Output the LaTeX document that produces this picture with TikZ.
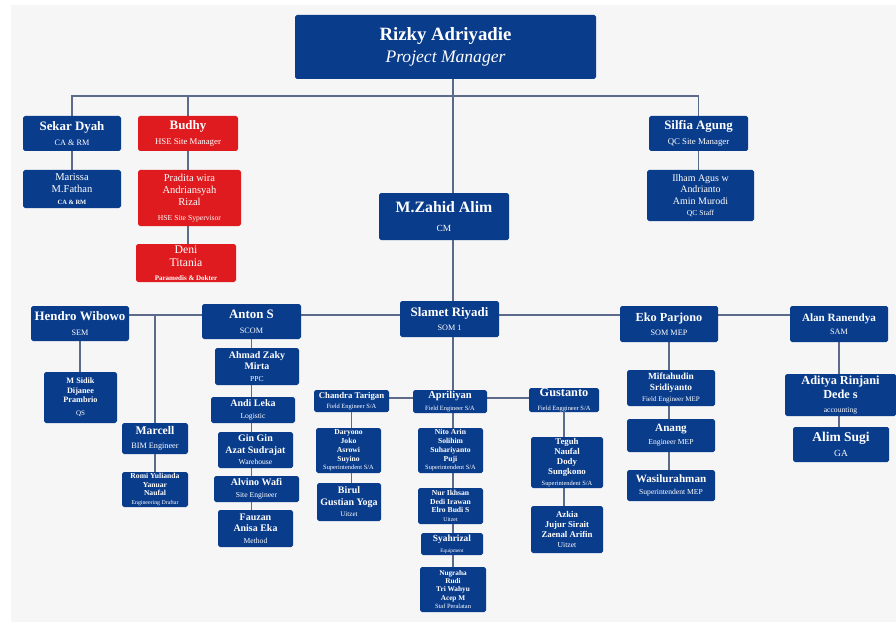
\documentclass[tikz,border=0pt]{standalone}
\usepackage{fontspec}
\setmainfont{Liberation Serif}
\usetikzlibrary{backgrounds}

\definecolor{navy}{HTML}{0A3C8C}
\definecolor{hsered}{HTML}{E01B1F}
\definecolor{linkc}{HTML}{5C6B8A}
\definecolor{panel}{HTML}{F6F6F7}

\newcommand{\role}[2][7]{{\mdseries\fontsize{#1}{#1}\selectfont #2}}

\begin{document}
\begin{tikzpicture}[x=0.03cm, y=-0.03cm]

\tikzset{
  box/.style={fill=navy, text=white, rounded corners=1.5pt, align=center, inner sep=0pt},
  redbox/.style={box, fill=hsered},
  sz/.style 2 args={minimum width=#1*0.03cm, minimum height=#2*0.03cm},
  fb/.style={font=\bfseries\fontsize{#1}{#1}\selectfont\setlength{\baselineskip}{1.15\baselineskip}},
  fm/.style={font=\mdseries\fontsize{#1}{#1}\selectfont\setlength{\baselineskip}{1.15\baselineskip}},
  link/.style={draw=linkc, line width=1pt}
}

\useasboundingbox (0,0) rectangle (896,622);

% --- Topo ---
\node[box, sz={301}{64}, fb=16] (pm) at (445.5,47) {Rizky Adriyadie\\[1pt]\role[15]{\itshape Project Manager}};

% Nível 1
\node[box, sz={98}{35}, fb=11] (sekar) at (72,133.5) {Sekar Dyah\\\role[7]{CA \& RM}};
\node[box, sz={98}{38}, fm=9] (marissa) at (72,189) {Marissa\\M.Fathan\\\role[5.5]{\bfseries CA \& RM}};

\node[redbox, sz={100}{35}, fb=11] (budhy) at (188,133.5) {Budhy\\\role[7.5]{HSE Site Manager}};
\node[redbox, sz={103}{56}, fm=9] (pradita) at (189.5,198) {Pradita wira\\Andriansyah\\Rizal\\[2pt]\role[6.5]{HSE Site Sypervisor}};
\node[redbox, sz={100}{38}, fm=10] (deni) at (186,263) {Deni\\Titania\\\role[6]{\bfseries Paramedis \& Dokter}};

\node[box, sz={99}{35}, fb=11] (silfia) at (698.5,133.5) {Silfia Agung\\\role[7.5]{QC Site Manager}};
\node[box, sz={107}{51}, fm=8.5] (ilham) at (700.5,195.5) {Ilham Agus w\\Andrianto\\Amin Murodi\\\role[6.5]{QC Staff}};

\node[box, sz={130}{47}, fb=13.5] (zahid) at (444,216.5) {M.Zahid Alim\\\role[8]{CM}};

% Nível 2
\node[box, sz={98}{35}, fb=11] (hendro) at (80,323.5) {Hendro Wibowo\\\role[7]{SEM}};
\node[box, sz={73}{51}, fb=7] (sidik) at (80.5,397.5) {M Sidik\\Dijanee\\Prambrio\\[3pt]\role[6]{QS}};
\node[box, sz={66}{31}, fb=10] (marcell) at (155,438.5) {Marcell\\\role[7]{BIM Engineer}};
\node[box, sz={66}{35}, fb=6.5] (romi) at (155,489.5) {Romi Yulianda\\Yanuar\\Naufal\\\role[5]{Engineering Draftar}};

\node[box, sz={99}{35}, fb=11] (anton) at (251.5,321.5) {Anton S\\\role[7]{SCOM}};
\node[box, sz={84}{37}, fb=8.5] (zaky) at (257,366.5) {Ahmad Zaky\\Mirta\\\role[6.5]{PPC}};
\node[box, sz={84}{26}, fb=8.5] (andi) at (253,410) {Andi Leka\\\role[6.5]{Logistic}};
\node[box, sz={75}{36}, fb=8.5] (gingin) at (255.5,450) {Gin Gin\\Azat Sudrajat\\\role[6.5]{Warehouse}};
\node[box, sz={85}{26}, fb=8.5] (alvino) at (256.5,489) {Alvino Wafi\\\role[6.5]{Site Engineer}};
\node[box, sz={75}{37}, fb=8.5] (fauzan) at (255.5,528.5) {Fauzan\\Anisa Eka\\\role[6.5]{Method}};

\node[box, sz={99}{36}, fb=11] (slamet) at (449.5,319) {Slamet Riyadi\\\role[7]{SOM 1}};

\node[box, sz={75}{22}, fb=7.5] (chandra) at (351.5,401) {Chandra Tarigan\\\role[5.5]{Field Engineer S/A}};
\node[box, sz={74}{23}, fb=9] (apriliyan) at (450,401.5) {Apriliyan\\\role[5.5]{Field Engineer S/A}};
\node[box, sz={70}{24}, fb=10.5] (gustanto) at (564,400) {Gustanto\\\role[5.5]{Field Enggineer S/A}};

\node[box, sz={65}{45}, fb=6.5] (daryono) at (348.5,450.5) {Daryono\\Joko\\Asrowi\\Suyino\\\role[5.5]{Superintendent S/A}};
\node[box, sz={64}{38}, fb=8.5] (birul) at (349,502) {Birul\\Gustian Yoga\\\role[6]{Uitzet}};

\node[box, sz={65}{45}, fb=6.5] (nito) at (450.5,450.5) {Nito Arin\\Solihim\\Suhariyanto\\Puji\\\role[5.5]{Superintendent S/A}};
\node[box, sz={65}{36}, fb=6.5] (nur) at (450.5,506) {Nur Ikhsan\\Dedi Irawan\\Elro Budi S\\\role[5]{Uitzet}};
\node[box, sz={62}{22}, fb=8] (syahrizal) at (452,544) {Syahrizal\\\role[4.5]{Equipment}};
\node[box, sz={66}{45}, fb=6.2] (nugraha) at (453,589.5) {Nugraha\\Rudi\\Tri Wahyu\\Acep M\\\role[5.5]{Staf Peralatan}};

\node[box, sz={72}{51}, fb=7.5] (teguh) at (567,462.5) {Teguh\\Naufal\\Dody\\Sungkono\\\role[5.5]{Superintendent S/A}};
\node[box, sz={72}{47}, fb=7.5] (azkia) at (567,529.5) {Azkia\\Jujur Sirait\\Zaenal Arifin\\\role[6.5]{Uitzet}};

\node[box, sz={98}{36}, fb=10.5] (eko) at (669,324) {Eko Parjono\\\role[7]{SOM MEP}};
\node[box, sz={88}{36}, fb=8] (miftah) at (671,388) {Miftahudin\\Sridiyanto\\\role[6]{Field Engineer MEP}};
\node[box, sz={88}{33}, fb=9.5] (anang) at (671,435.5) {Anang\\\role[6.5]{Engineer MEP}};
\node[box, sz={88}{31}, fb=9.5] (wasil) at (671,485.5) {Wasilurahman\\\role[6.5]{Superintendent MEP}};

\node[box, sz={98}{36}, fb=9.5] (alan) at (839,324) {Alan Ranendya\\\role[7]{SAM}};
\node[box, sz={111}{42}, fb=10.5] (aditya) at (840.5,395) {Aditya Rinjani\\Dede s\\\role[6.5]{accounting}};
\node[box, sz={96}{35}, fb=11.5] (alim) at (841,444.5) {Alim Sugi\\\role[8]{GA}};

% --- Linhas ---
\coordinate (tbus) at (0,96);
\coordinate (mbus) at (0,315);
\coordinate (fbus) at (0,398);
\coordinate (trunk) at (453,0);

\begin{scope}[on background layer]
\fill[panel] (11,5) rectangle (896,622);

\draw[link] (pm.south -| trunk) -- (nugraha.north -| trunk);

\draw[link] (sekar) |- (silfia |- tbus) -- (silfia);
\draw[link] (budhy |- tbus) -- (budhy);
\draw[link] (sekar) -- (sekar |- marissa.north);
\draw[link] (budhy) -- (budhy |- deni.north);
\draw[link] (silfia) -- (silfia |- ilham.north);

\draw[link] (hendro.east |- mbus) -- (alan.west |- mbus);
\draw[link] (hendro) -- (hendro |- sidik.north);
\draw[link] (marcell |- mbus) -- (marcell |- romi.north);
\draw[link] (anton) -- (anton |- fauzan.north);
\draw[link] (eko) -- (eko |- wasil.north);
\draw[link] (alan) -- (alan |- alim.north);

\draw[link] (chandra |- fbus) -- (gustanto |- fbus);
\draw[link] (chandra) -- (chandra |- birul.north);
\draw[link] (gustanto) -- (gustanto |- azkia.north);
\end{scope}

\end{tikzpicture}
\end{document}
